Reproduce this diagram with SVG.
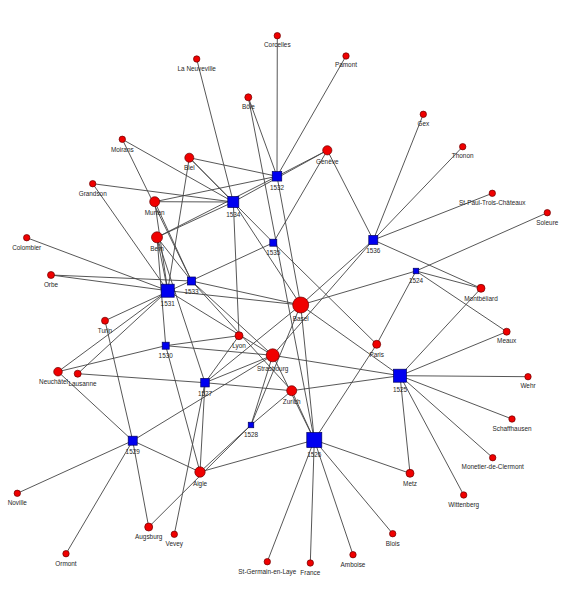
<svg xmlns="http://www.w3.org/2000/svg" width="568" height="601" viewBox="0 0 568 601">
<style>
.e line{stroke:#444;stroke-width:0.9;fill:none}
.p{fill:#f00000;stroke:#6a0000;stroke-width:0.7}
.y{fill:#0000f0;stroke:#000060;stroke-width:0.7}
text{font-family:"Liberation Sans",Arial,sans-serif;font-size:6.4px;fill:#262626;text-anchor:middle}
</style>
<rect width="568" height="601" fill="#fff"/>
<g id="edges" class="e">
<line x1="277" y1="176.3" x2="277.3" y2="35.7"/>
<line x1="277" y1="176.3" x2="346" y2="56"/>
<line x1="277" y1="176.3" x2="248.3" y2="97.3"/>
<line x1="277" y1="176.3" x2="327.3" y2="150.3"/>
<line x1="277" y1="176.3" x2="189.3" y2="157.7"/>
<line x1="277" y1="176.3" x2="154.7" y2="201.7"/>
<line x1="277" y1="176.3" x2="157" y2="237.3"/>
<line x1="277" y1="176.3" x2="300.7" y2="305"/>
<line x1="233.3" y1="202" x2="196.7" y2="59"/>
<line x1="233.3" y1="202" x2="189.3" y2="157.7"/>
<line x1="233.3" y1="202" x2="122.3" y2="139.3"/>
<line x1="233.3" y1="202" x2="92.7" y2="183.7"/>
<line x1="233.3" y1="202" x2="154.7" y2="201.7"/>
<line x1="233.3" y1="202" x2="157" y2="237.3"/>
<line x1="233.3" y1="202" x2="327.3" y2="150.3"/>
<line x1="233.3" y1="202" x2="239" y2="335.7"/>
<line x1="233.3" y1="202" x2="300.7" y2="305"/>
<line x1="273.3" y1="242.7" x2="327.3" y2="150.3"/>
<line x1="273.3" y1="242.7" x2="189.3" y2="157.7"/>
<line x1="273.3" y1="242.7" x2="105" y2="320.7"/>
<line x1="273.3" y1="242.7" x2="376.7" y2="344.3"/>
<line x1="373.3" y1="240" x2="423.3" y2="114.3"/>
<line x1="373.3" y1="240" x2="462.7" y2="146.7"/>
<line x1="373.3" y1="240" x2="492.3" y2="193.3"/>
<line x1="373.3" y1="240" x2="327.3" y2="150.3"/>
<line x1="373.3" y1="240" x2="300.7" y2="305"/>
<line x1="373.3" y1="240" x2="272.7" y2="355.3"/>
<line x1="373.3" y1="240" x2="481" y2="288.3"/>
<line x1="416" y1="271" x2="547.3" y2="212.7"/>
<line x1="416" y1="271" x2="300.7" y2="305"/>
<line x1="416" y1="271" x2="481" y2="288.3"/>
<line x1="416" y1="271" x2="506.7" y2="331.7"/>
<line x1="416" y1="271" x2="376.7" y2="344.3"/>
<line x1="191.5" y1="281" x2="51" y2="275"/>
<line x1="191.5" y1="281" x2="122.3" y2="139.3"/>
<line x1="191.5" y1="281" x2="154.7" y2="201.7"/>
<line x1="191.5" y1="281" x2="157" y2="237.3"/>
<line x1="191.5" y1="281" x2="300.7" y2="305"/>
<line x1="191.5" y1="281" x2="291.7" y2="390.7"/>
<line x1="191.5" y1="281" x2="272.7" y2="355.3"/>
<line x1="167.7" y1="290.7" x2="26.7" y2="237.7"/>
<line x1="167.7" y1="290.7" x2="51" y2="275"/>
<line x1="167.7" y1="290.7" x2="92.7" y2="183.7"/>
<line x1="167.7" y1="290.7" x2="58" y2="371.7"/>
<line x1="167.7" y1="290.7" x2="77.7" y2="373.7"/>
<line x1="167.7" y1="290.7" x2="157" y2="237.3"/>
<line x1="167.7" y1="290.7" x2="154.7" y2="201.7"/>
<line x1="167.7" y1="290.7" x2="189.3" y2="157.7"/>
<line x1="167.7" y1="290.7" x2="300.7" y2="305"/>
<line x1="167.7" y1="290.7" x2="272.7" y2="355.3"/>
<line x1="165.7" y1="345.7" x2="157" y2="237.3"/>
<line x1="165.7" y1="345.7" x2="58" y2="371.7"/>
<line x1="165.7" y1="345.7" x2="239" y2="335.7"/>
<line x1="165.7" y1="345.7" x2="272.7" y2="355.3"/>
<line x1="165.7" y1="345.7" x2="200" y2="472"/>
<line x1="205" y1="382.7" x2="77.7" y2="373.7"/>
<line x1="205" y1="382.7" x2="157" y2="237.3"/>
<line x1="205" y1="382.7" x2="239" y2="335.7"/>
<line x1="205" y1="382.7" x2="272.7" y2="355.3"/>
<line x1="205" y1="382.7" x2="300.7" y2="305"/>
<line x1="205" y1="382.7" x2="291.7" y2="390.7"/>
<line x1="205" y1="382.7" x2="200" y2="472"/>
<line x1="205" y1="382.7" x2="174.3" y2="534.3"/>
<line x1="132.7" y1="440.7" x2="17.3" y2="493.3"/>
<line x1="132.7" y1="440.7" x2="66" y2="553.7"/>
<line x1="132.7" y1="440.7" x2="148.7" y2="527"/>
<line x1="132.7" y1="440.7" x2="200" y2="472"/>
<line x1="132.7" y1="440.7" x2="105" y2="320.7"/>
<line x1="132.7" y1="440.7" x2="58" y2="371.7"/>
<line x1="132.7" y1="440.7" x2="272.7" y2="355.3"/>
<line x1="251" y1="425" x2="272.7" y2="355.3"/>
<line x1="251" y1="425" x2="300.7" y2="305"/>
<line x1="251" y1="425" x2="291.7" y2="390.7"/>
<line x1="251" y1="425" x2="200" y2="472"/>
<line x1="251" y1="425" x2="148.7" y2="527"/>
<line x1="314.3" y1="440" x2="200" y2="472"/>
<line x1="314.3" y1="440" x2="291.7" y2="390.7"/>
<line x1="314.3" y1="440" x2="300.7" y2="305"/>
<line x1="314.3" y1="440" x2="248.3" y2="97.3"/>
<line x1="314.3" y1="440" x2="272.7" y2="355.3"/>
<line x1="314.3" y1="440" x2="376.7" y2="344.3"/>
<line x1="314.3" y1="440" x2="410" y2="473.3"/>
<line x1="314.3" y1="440" x2="392.7" y2="533.7"/>
<line x1="314.3" y1="440" x2="353" y2="554.7"/>
<line x1="314.3" y1="440" x2="310.3" y2="563"/>
<line x1="314.3" y1="440" x2="267.3" y2="561.7"/>
<line x1="400" y1="375.7" x2="272.7" y2="355.3"/>
<line x1="400" y1="375.7" x2="291.7" y2="390.7"/>
<line x1="400" y1="375.7" x2="300.7" y2="305"/>
<line x1="400" y1="375.7" x2="481" y2="288.3"/>
<line x1="400" y1="375.7" x2="506.7" y2="331.7"/>
<line x1="400" y1="375.7" x2="528" y2="376.7"/>
<line x1="400" y1="375.7" x2="512" y2="419"/>
<line x1="400" y1="375.7" x2="492.7" y2="457.7"/>
<line x1="400" y1="375.7" x2="463.7" y2="495"/>
<line x1="400" y1="375.7" x2="410" y2="473.3"/>
</g>
<g id="n-corcelles"><circle class="p" cx="277.3" cy="35.7" r="3.2"/><text x="277.3" y="46.6">Corcelles</text></g>
<g id="n-pamont"><circle class="p" cx="346" cy="56" r="3.2"/><text x="346" y="67.3">Pamont</text></g>
<g id="n-laneuveville"><circle class="p" cx="196.7" cy="59" r="3.2"/><text x="196.7" y="70.6">La Neuveville</text></g>
<g id="n-bole"><circle class="p" cx="248.3" cy="97.3" r="3.5"/><text x="248.3" y="109">Bôle</text></g>
<g id="n-gex"><circle class="p" cx="423.3" cy="114.3" r="3.2"/><text x="423.3" y="125.6">Gex</text></g>
<g id="n-moirans"><circle class="p" cx="122.3" cy="139.3" r="3.2"/><text x="122.3" y="151.6">Moirans</text></g>
<g id="n-thonon"><circle class="p" cx="462.7" cy="146.7" r="3.2"/><text x="462.7" y="158.3">Thonon</text></g>
<g id="n-geneve"><circle class="p" cx="327.3" cy="150.3" r="4.6"/><text x="327.3" y="163.6">Genève</text></g>
<g id="n-biel"><circle class="p" cx="189.3" cy="157.7" r="4.5"/><text x="189.3" y="170">Biel</text></g>
<g id="n-grandson"><circle class="p" cx="92.7" cy="183.7" r="3.2"/><text x="92.7" y="196">Grandson</text></g>
<g id="n-stpaul"><circle class="p" cx="492.3" cy="193.3" r="3.2"/><text x="492.3" y="205">St-Paul-Trois-Châteaux</text></g>
<g id="n-murten"><circle class="p" cx="154.7" cy="201.7" r="5"/><text x="154.7" y="215">Murten</text></g>
<g id="n-soleure"><circle class="p" cx="547.3" cy="212.7" r="3.2"/><text x="547.3" y="225">Soleure</text></g>
<g id="n-bern"><circle class="p" cx="157" cy="237.3" r="5.5"/><text x="157" y="251">Bern</text></g>
<g id="n-colombier"><circle class="p" cx="26.7" cy="237.7" r="3.2"/><text x="26.7" y="249.6">Colombier</text></g>
<g id="n-orbe"><circle class="p" cx="51" cy="275" r="3.5"/><text x="51" y="287.3">Orbe</text></g>
<g id="n-montbeliard"><circle class="p" cx="481" cy="288.3" r="4"/><text x="481" y="300.6">Montbéliard</text></g>
<g id="n-basel"><circle class="p" cx="300.7" cy="305" r="8"/><text x="300.7" y="320.6">Basel</text></g>
<g id="n-turin"><circle class="p" cx="105" cy="320.7" r="3.5"/><text x="105" y="333.3">Turin</text></g>
<g id="n-meaux"><circle class="p" cx="506.7" cy="331.7" r="3.5"/><text x="506.7" y="343.3">Meaux</text></g>
<g id="n-lyon"><circle class="p" cx="239" cy="335.7" r="4"/><text x="239" y="348.3">Lyon</text></g>
<g id="n-paris"><circle class="p" cx="376.7" cy="344.3" r="4"/><text x="376.7" y="356.6">Paris</text></g>
<g id="n-strasbourg"><circle class="p" cx="272.7" cy="355.3" r="6.5"/><text x="272.7" y="371">Strasbourg</text></g>
<g id="n-neuchatel"><circle class="p" cx="58" cy="371.7" r="4.3"/><text x="53.5" y="384">Neuchâtel</text></g>
<g id="n-lausanne"><circle class="p" cx="77.7" cy="373.7" r="3.5"/><text x="82.5" y="386">Lausanne</text></g>
<g id="n-wehr"><circle class="p" cx="528" cy="376.7" r="3.2"/><text x="528" y="388.3">Wehr</text></g>
<g id="n-zurich"><circle class="p" cx="291.7" cy="390.7" r="5"/><text x="291.7" y="404">Zurich</text></g>
<g id="n-schaffhausen"><circle class="p" cx="512" cy="419" r="3.2"/><text x="512" y="430.6">Schaffhausen</text></g>
<g id="n-monetier"><circle class="p" cx="492.7" cy="457.7" r="3.2"/><text x="492.7" y="469">Monetier-de-Clermont</text></g>
<g id="n-metz"><circle class="p" cx="410" cy="473.3" r="4"/><text x="410" y="485.6">Metz</text></g>
<g id="n-aigle"><circle class="p" cx="200" cy="472" r="5.2"/><text x="200" y="486">Aigle</text></g>
<g id="n-noville"><circle class="p" cx="17.3" cy="493.3" r="3.2"/><text x="17.3" y="504.6">Noville</text></g>
<g id="n-wittenberg"><circle class="p" cx="463.7" cy="495" r="3.2"/><text x="463.7" y="506.6">Wittenberg</text></g>
<g id="n-augsburg"><circle class="p" cx="148.7" cy="527" r="4"/><text x="148.7" y="539.3">Augsburg</text></g>
<g id="n-vevey"><circle class="p" cx="174.3" cy="534.3" r="3.2"/><text x="174.3" y="546.3">Vevey</text></g>
<g id="n-blois"><circle class="p" cx="392.7" cy="533.7" r="3.2"/><text x="392.7" y="545.6">Blois</text></g>
<g id="n-ormont"><circle class="p" cx="66" cy="553.7" r="3.2"/><text x="66" y="565.6">Ormont</text></g>
<g id="n-amboise"><circle class="p" cx="353" cy="554.7" r="3.2"/><text x="353" y="566.6">Amboise</text></g>
<g id="n-stgermain"><circle class="p" cx="267.3" cy="561.7" r="3.2"/><text x="267.3" y="574">St-Germain-en-Laye</text></g>
<g id="n-france"><circle class="p" cx="310.3" cy="563" r="3.2"/><text x="310.3" y="574.6">France</text></g>
<g id="y1532"><rect class="y" x="272.25" y="171.55" width="9.5" height="9.5"/><text x="277" y="190">1532</text></g>
<g id="y1534"><rect class="y" x="227.8" y="196.5" width="11" height="11"/><text x="233.3" y="216.6">1534</text></g>
<g id="y1535"><rect class="y" x="269.8" y="239.2" width="7" height="7"/><text x="273.3" y="255">1535</text></g>
<g id="y1536"><rect class="y" x="368.8" y="235.5" width="9" height="9"/><text x="373.3" y="253">1536</text></g>
<g id="y1524"><rect class="y" x="413.25" y="268.25" width="5.5" height="5.5"/><text x="416" y="283">1524</text></g>
<g id="y1533"><rect class="y" x="187.5" y="277" width="8" height="8"/><text x="191.5" y="293.5">1533</text></g>
<g id="y1531"><rect class="y" x="161.2" y="284.2" width="13" height="13"/><text x="167.7" y="306.3">1531</text></g>
<g id="y1530"><rect class="y" x="162.2" y="342.2" width="7" height="7"/><text x="165.7" y="358">1530</text></g>
<g id="y1527"><rect class="y" x="200.75" y="378.45" width="8.5" height="8.5"/><text x="205" y="395.6">1527</text></g>
<g id="y1525"><rect class="y" x="393.5" y="369.2" width="13" height="13"/><text x="400" y="391.6">1525</text></g>
<g id="y1528"><rect class="y" x="248.25" y="422.25" width="5.5" height="5.5"/><text x="251" y="436.6">1528</text></g>
<g id="y1529"><rect class="y" x="128.2" y="436.2" width="9" height="9"/><text x="132.7" y="453.6">1529</text></g>
<g id="y1526"><rect class="y" x="306.8" y="432.5" width="15" height="15"/><text x="314.3" y="456.6">1526</text></g>
</svg>
